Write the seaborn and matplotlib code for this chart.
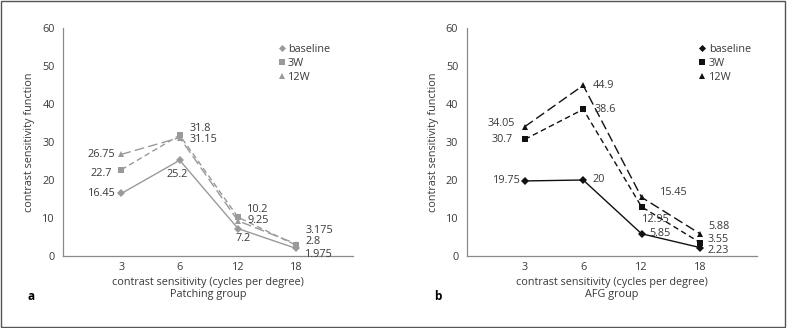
import matplotlib
matplotlib.use("Agg")
import matplotlib.pyplot as plt
from matplotlib.lines import Line2D
from matplotlib.patches import Rectangle
import pandas as pd
import seaborn as sns

FREQS = ["3", "6", "12", "18"]
SERIES = ["baseline", "3W", "12W"]

PATCH_BASELINE = [16.45, 25.2, 7.2, 1.975]
PATCH_3W = [22.7, 31.8, 10.2, 2.8]
PATCH_12W = [26.75, 31.15, 9.25, 3.175]

AFG_BASELINE = [19.75, 20, 5.85, 2.23]
AFG_3W = [30.7, 38.6, 12.95, 3.55]
AFG_12W = [34.05, 44.9, 15.45, 5.88]

LABELS_PATCH = ["16.45", "25.2", "7.2", "1.975",
                "22.7", "31.8", "10.2", "2.8",
                "26.75", "31.15", "9.25", "3.175"]
LABELS_AFG = ["19.75", "20", "5.85", "2.23",
              "30.7", "38.6", "12.95", "3.55",
              "34.05", "44.9", "15.45", "5.88"]

MARKERS = {"baseline": "D", "3W": "s", "12W": "^"}
MSIZE = {"baseline": 3.8, "3W": 4.4, "12W": 4.6}
DASHES = {"baseline": "", "3W": (4, 2.5), "12W": (7, 3)}
AXIS_GREY = "#8a8a8a"
TEXT = "#3a3a3a"
FS = 7.8


def long_frame(baseline, w3, w12):
    rows = []
    for name, vals in zip(SERIES, [baseline, w3, w12]):
        for i, v in enumerate(vals):
            rows.append({"pos": i, "value": v, "series": name})
    return pd.DataFrame(rows)


# label offsets in points (dx, dy, ha), per series and per frequency
OFFS_PATCH = [
    [(-4.3, 0, "right"), (-2, -10, "center"), (-1.5, -6.8, "left"), (6.5, -4.5, "left")],
    [(-6.5, -2.4, "right"), (7, 5, "left"), (6.5, 5.8, "left"), (6.5, 2.8, "left")],
    [(-4.3, 0, "right"), (7, -1, "left"), (6.5, 0, "left"), (6.5, 9.5, "left")],
]
OFFS_AFG = [
    [(-3, 0, "right"), (7, 0, "left"), (5.5, 0, "left"), (5.8, -1.8, "left")],
    [(-8.6, 0, "right"), (8, 0, "left"), (0, -9, "left"), (5.8, 2.5, "left")],
    [(-7, 2, "right"), (7, 0, "left"), (13, 3.8, "left"), (5.8, 4.8, "left")],
]


def draw_panel(ax, df, color, labels, offs, group, letter, fig, letter_x, leg_x):
    for name in SERIES:
        sub = df[df["series"] == name]
        sns.lineplot(
            data=sub, x="pos", y="value", color=color, linewidth=1.0,
            marker=MARKERS[name], markersize=MSIZE[name], markeredgewidth=0,
            dashes=DASHES[name] if DASHES[name] else (None, None),
            legend=False, ax=ax,
        )
        if not DASHES[name]:
            ax.lines[-1].set_linestyle("-")

    k = 0
    for si, name in enumerate(SERIES):
        sub = df[df["series"] == name]
        for j, (x, y) in enumerate(zip(sub["pos"], sub["value"])):
            dx, dy, ha = offs[si][j]
            ax.annotate(labels[k], (x, y), xytext=(dx, dy), textcoords="offset points",
                        ha=ha, va="center", fontsize=FS, color=TEXT)
            k += 1

    ax.set_xlim(-1, 3.97)
    ax.set_ylim(0, 60)
    ax.set_yticks(range(0, 61, 10))
    ax.set_xticks(range(len(FREQS)))
    ax.set_xticklabels(FREQS)
    ax.tick_params(axis="y", direction="out", length=4, color=AXIS_GREY, width=0.8,
                   labelsize=FS, labelcolor=TEXT, pad=2)
    ax.tick_params(axis="x", direction="in", length=4, color=AXIS_GREY, width=0.8,
                   labelsize=FS, labelcolor=TEXT, pad=4)
    for s in ["top", "right"]:
        ax.spines[s].set_visible(False)
    for s in ["left", "bottom"]:
        ax.spines[s].set_color(AXIS_GREY)
        ax.spines[s].set_linewidth(0.9)
    ax.set_xlabel("contrast sensitivity (cycles per degree)\n" + group,
                  fontsize=FS, color=TEXT, labelpad=3, linespacing=1.1)
    ax.set_ylabel("contrast sensitivity function", fontsize=FS, color=TEXT, labelpad=5)
    ax.grid(False)

    handles = [Line2D([], [], linestyle="none", marker=MARKERS[s], color=color,
                      markersize=MSIZE[s] - 0.2, markeredgewidth=0) for s in SERIES]
    leg = ax.legend(handles, SERIES, loc="upper left", bbox_to_anchor=(leg_x, 0.95),
                    frameon=False, fontsize=FS, handletextpad=0.1, handlelength=1.0,
                    labelspacing=0.3, borderaxespad=0)
    for t in leg.get_texts():
        t.set_color(TEXT)
    fig.text(letter_x, 1 - 296 / 328, letter, fontsize=8.5, fontweight="bold",
             color="black", va="center")


sns.set_theme(style="white")
plt.rcParams["font.family"] = ["Open Sans", "DejaVu Sans"]

fig = plt.figure(figsize=(7.87, 3.28), dpi=100)
ax_a = fig.add_axes([63 / 787, 1 - 256 / 328, 290 / 787, 228 / 328])
ax_b = fig.add_axes([466.5 / 787, 1 - 256 / 328, 290 / 787, 228 / 328])

draw_panel(ax_a, long_frame(PATCH_BASELINE, PATCH_3W, PATCH_12W), "#9a9a9a",
           LABELS_PATCH, OFFS_PATCH, "Patching group", "a", fig, 27 / 787, 0.72)
draw_panel(ax_b, long_frame(AFG_BASELINE, AFG_3W, AFG_12W), "#111111",
           LABELS_AFG, OFFS_AFG, "AFG group", "b", fig, 434 / 787, 0.78)

fig.patches.append(Rectangle((0.001, 0.002), 0.997, 0.995, transform=fig.transFigure,
                             fill=False, edgecolor="#555555", linewidth=1.0))

fig.savefig("out.png", dpi=100)
